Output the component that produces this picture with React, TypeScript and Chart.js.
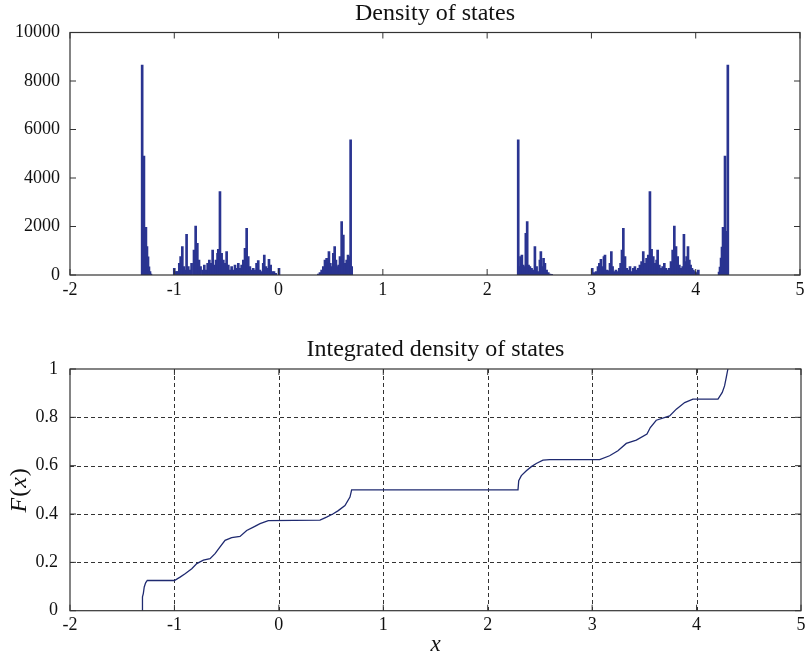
import React, { useEffect, useRef } from "react";
import { Chart, registerables } from "chart.js";
Chart.register(...registerables);

// ---------- data ----------
const xTicks = [-2, -1, 0, 1, 2, 3, 4, 5];
const dosYTicks = [0, 2000, 4000, 6000, 8000, 10000];
const idsYTicks = [0, 0.2, 0.4, 0.6, 0.8, 1];

const topTitle = "Density of states";
const bottomTitle = "Integrated density of states";

// histogram bins (bin centre) and counts, band by band
const band1X = [-1.308, -1.300, -1.291, -1.281, -1.272, -1.262, -1.252, -1.243, -1.233, -1.224];
const band1Counts = [8660, 1750, 4900, 1750, 1970, 1170, 750, 340, 140, 40];

const band2X = [-1.000, -0.987, -0.974, -0.962, -0.952, -0.939, -0.923, -0.907, -0.898, -0.882, -0.866, -0.850, -0.834, -0.811, -0.795, -0.779, -0.763, -0.748, -0.728, -0.712, -0.696, -0.680, -0.664, -0.648, -0.632, -0.616, -0.600, -0.585, -0.578, -0.562, -0.546, -0.530, -0.514, -0.498, -0.482, -0.466, -0.450, -0.434, -0.418, -0.402, -0.386, -0.370, -0.354, -0.338, -0.322, -0.306, -0.291, -0.275, -0.259, -0.243, -0.227, -0.211, -0.195, -0.179, -0.163, -0.147, -0.137, -0.121, -0.105, -0.092, -0.076, -0.060, -0.044, -0.028, 0.004];
const band2Counts = [275, 140, 140, 140, 480, 756, 1169, 344, 206, 1678, 344, 206, 481, 1031, 2021, 1306, 619, 344, 206, 413, 206, 481, 619, 481, 1031, 413, 619, 894, 1059, 3438, 894, 619, 481, 963, 413, 206, 344, 206, 413, 275, 481, 275, 413, 619, 1100, 1925, 756, 344, 206, 275, 206, 481, 591, 206, 137, 481, 825, 344, 275, 646, 413, 137, 137, 69, 275];

const band3X = [0.381, 0.397, 0.413, 0.429, 0.445, 0.461, 0.474, 0.483, 0.496, 0.509, 0.525, 0.538, 0.550, 0.563, 0.576, 0.589, 0.605, 0.621, 0.637, 0.653, 0.666, 0.678, 0.691, 0.701];
const band3Counts = [41, 96, 206, 344, 619, 688, 509, 963, 481, 344, 894, 1169, 619, 344, 413, 756, 2200, 1650, 481, 619, 825, 756, 5569, 344];

const band4X = [2.298, 2.308, 2.320, 2.333, 2.346, 2.359, 2.371, 2.384, 2.397, 2.410, 2.426, 2.442, 2.458, 2.474, 2.490, 2.506, 2.515, 2.528, 2.541, 2.554, 2.570, 2.586, 2.602, 2.618];
const band4Counts = [5569, 344, 756, 825, 413, 344, 1719, 2200, 413, 344, 275, 206, 1169, 344, 138, 619, 963, 344, 688, 481, 206, 96, 41, 28];

const band5X = [3.008, 3.024, 3.044, 3.063, 3.076, 3.091, 3.107, 3.120, 3.130, 3.146, 3.162, 3.178, 3.191, 3.203, 3.219, 3.235, 3.251, 3.267, 3.280, 3.293, 3.306, 3.322, 3.338, 3.354, 3.370, 3.386, 3.402, 3.417, 3.433, 3.449, 3.465, 3.481, 3.497, 3.513, 3.529, 3.545, 3.561, 3.577, 3.593, 3.609, 3.625, 3.635, 3.651, 3.667, 3.683, 3.699, 3.715, 3.731, 3.747, 3.763, 3.779, 3.795, 3.811, 3.827, 3.843, 3.859, 3.875, 3.887, 3.900, 3.913, 3.926, 3.939, 3.951, 3.964, 3.977, 3.993, 4.009, 4.025];
const band5Counts = [275, 96, 138, 344, 481, 646, 344, 756, 825, 206, 179, 481, 963, 344, 138, 206, 138, 275, 481, 1031, 1925, 756, 275, 206, 344, 138, 275, 344, 206, 275, 413, 550, 963, 481, 688, 825, 3438, 1059, 756, 481, 619, 1031, 413, 275, 344, 481, 275, 206, 275, 550, 1031, 2021, 1169, 756, 413, 275, 344, 1678, 550, 756, 1169, 619, 413, 275, 206, 138, 96, 206];

const band6X = [4.224, 4.233, 4.243, 4.252, 4.262, 4.272, 4.281, 4.291, 4.300, 4.308];
const band6Counts = [120, 330, 700, 1150, 1970, 1700, 4900, 1750, 1800, 8660];

// integrated density of states F(x)
const idsX = [-1.308, -1.306, -1.298, -1.289, -1.276, -1.260, -1.000, -0.946, -0.898, -0.834, -0.786, -0.723, -0.659, -0.611, -0.563, -0.515, -0.452, -0.372, -0.308, -0.244, -0.180, -0.101, 0.394, 0.457, 0.521, 0.569, 0.633, 0.681, 0.697, 2.290, 2.297, 2.322, 2.370, 2.418, 2.465, 2.529, 2.593, 3.072, 3.167, 3.247, 3.327, 3.423, 3.525, 3.557, 3.614, 3.742, 3.806, 3.886, 3.965, 4.205, 4.246, 4.268, 4.284, 4.300];
const idsF = [0, 0.057, 0.071, 0.098, 0.115, 0.125, 0.125, 0.139, 0.153, 0.174, 0.195, 0.209, 0.215, 0.236, 0.264, 0.291, 0.302, 0.307, 0.332, 0.346, 0.360, 0.373, 0.375, 0.387, 0.401, 0.414, 0.435, 0.470, 0.500, 0.500, 0.538, 0.559, 0.579, 0.596, 0.609, 0.623, 0.625, 0.625, 0.641, 0.662, 0.692, 0.706, 0.731, 0.758, 0.788, 0.806, 0.834, 0.861, 0.875, 0.875, 0.903, 0.930, 0.964, 1.0];

// ---------- helpers ----------
const SERIF = "'Liberation Serif', 'Times New Roman', serif";
const tickFont = { family: SERIF, size: 18 };
const TITLE_PX = 24;

const bandsX = [band1X, band2X, band3X, band4X, band5X, band6X];
const bandsC = [band1Counts, band2Counts, band3Counts, band4Counts, band5Counts, band6Counts];

function framePlugin(xs: number[], ys: number[], grid: boolean) {
  return {
    id: "frame",
    beforeDatasetsDraw(chart: any) {
      if (!grid) return;
      const { ctx, chartArea: a, scales } = chart;
      ctx.save();
      ctx.strokeStyle = "#333";
      ctx.lineWidth = 1;
      ctx.setLineDash([4, 3]);
      xs.forEach((v) => {
        const px = Math.round(scales.x.getPixelForValue(v)) + 0.5;
        if (px <= a.left + 1 || px >= a.right - 1) return;
        ctx.beginPath();
        ctx.moveTo(px, a.top);
        ctx.lineTo(px, a.bottom);
        ctx.stroke();
      });
      ys.forEach((v) => {
        const py = Math.round(scales.y.getPixelForValue(v)) + 0.5;
        if (py <= a.top + 1 || py >= a.bottom - 1) return;
        ctx.beginPath();
        ctx.moveTo(a.left, py);
        ctx.lineTo(a.right, py);
        ctx.stroke();
      });
      ctx.restore();
    },
    afterDatasetsDraw(chart: any) {
      const { ctx, chartArea: a, scales } = chart;
      ctx.save();
      ctx.strokeStyle = "#333";
      ctx.lineWidth = 1.2;
      ctx.setLineDash([]);
      ctx.strokeRect(a.left, a.top, a.right - a.left, a.bottom - a.top);
      const tl = 6;
      ctx.lineWidth = 1;
      xs.forEach((v) => {
        const px = scales.x.getPixelForValue(v);
        ctx.beginPath();
        ctx.moveTo(px, a.bottom);
        ctx.lineTo(px, a.bottom - tl);
        ctx.moveTo(px, a.top);
        ctx.lineTo(px, a.top + tl);
        ctx.stroke();
      });
      ys.forEach((v) => {
        const py = scales.y.getPixelForValue(v);
        ctx.beginPath();
        ctx.moveTo(a.left, py);
        ctx.lineTo(a.left + tl, py);
        ctx.moveTo(a.right, py);
        ctx.lineTo(a.right - tl, py);
        ctx.stroke();
      });
      ctx.restore();
    },
  };
}

function textPlugin(draw: (ctx: CanvasRenderingContext2D, chart: any) => void) {
  return {
    id: "texts",
    afterDraw(chart: any) {
      const ctx = chart.ctx;
      ctx.save();
      draw(ctx, chart);
      ctx.restore();
    },
  };
}

function axisOpts(min: number, max: number, ticks: number[], isX: boolean, size: number, pad: number) {
  return {
    type: "linear" as const,
    min,
    max,
    offset: false,
    afterBuildTicks: (s: any) => {
      s.ticks = ticks.map((v) => ({ value: v }));
    },
    afterFit: (s: any) => {
      if (isX) {
        s.height = size;
        s.paddingLeft = 0;
        s.paddingRight = 0;
      } else {
        s.width = size;
        s.paddingTop = 0;
        s.paddingBottom = 0;
      }
    },
    grid: { display: false, drawTicks: false, offset: false },
    border: { display: false },
    ticks: {
      font: tickFont,
      color: "#111",
      padding: pad,
      maxRotation: 0,
      autoSkip: false,
      callback: (v: any) => String(v),
    },
  };
}

export default function App() {
  const topRef = useRef<HTMLCanvasElement>(null);
  const botRef = useRef<HTMLCanvasElement>(null);

  useEffect(() => {
    const dosPoints: { x: number; y: number }[] = [];
    bandsX.forEach((xsArr, i) => {
      xsArr.forEach((x, j) => dosPoints.push({ x, y: bandsC[i][j] }));
    });
    const idsPoints = idsX.map((x, i) => ({ x, y: idsF[i] }));

    const top = new Chart(topRef.current!, {
      type: "bar",
      data: {
        datasets: [
          {
            data: dosPoints as any,
            backgroundColor: "#2a3491",
            borderWidth: 0,
            barThickness: 2,
            grouped: false,
          } as any,
        ],
      },
      options: {
        animation: false,
        responsive: false,
        maintainAspectRatio: false,
        layout: { padding: { top: 32.5, right: 5, left: 0, bottom: 0 } },
        plugins: { legend: { display: false }, tooltip: { enabled: false }, title: { display: false } },
        scales: {
          x: axisOpts(-2, 5, xTicks, true, 25, 4) as any,
          y: axisOpts(0, 10000, dosYTicks, false, 70, 10) as any,
        },
      },
      plugins: [
        framePlugin(xTicks, dosYTicks, false),
        textPlugin((ctx, chart) => {
          const a = chart.chartArea;
          ctx.fillStyle = "#111";
          ctx.font = `${TITLE_PX}px ${SERIF}`;
          ctx.textAlign = "center";
          ctx.textBaseline = "middle";
          ctx.fillText(topTitle, (a.left + a.right) / 2, 14);
        }),
      ],
    });

    const bot = new Chart(botRef.current!, {
      type: "line",
      data: {
        datasets: [
          {
            data: idsPoints as any,
            borderColor: "#1f2a70",
            borderWidth: 1.3,
            pointRadius: 0,
            tension: 0,
            fill: false,
          },
        ],
      },
      options: {
        animation: false,
        responsive: false,
        maintainAspectRatio: false,
        layout: { padding: { top: 69, right: 4, left: 0, bottom: 0 } },
        plugins: { legend: { display: false }, tooltip: { enabled: false }, title: { display: false } },
        scales: {
          x: axisOpts(-2, 5, xTicks, true, 43.3, 4) as any,
          y: axisOpts(0, 1, idsYTicks, false, 70, 12) as any,
        },
      },
      plugins: [
        framePlugin(xTicks, idsYTicks, true),
        textPlugin((ctx, chart) => {
          const a = chart.chartArea;
          ctx.fillStyle = "#111";
          ctx.font = `${TITLE_PX}px ${SERIF}`;
          ctx.textAlign = "center";
          ctx.textBaseline = "middle";
          ctx.fillText(bottomTitle, (a.left + a.right) / 2, 50);
          // x label
          ctx.font = `italic 23px ${SERIF}`;
          ctx.fillText("x", (a.left + a.right) / 2, 345);
          // F(x) label rotated
          ctx.translate(20, (a.top + a.bottom) / 2);
          ctx.rotate(-Math.PI / 2);
          const parts: [string, string][] = [
            ["F", `italic 24px ${SERIF}`],
            ["(", `24px ${SERIF}`],
            ["x", `italic 24px ${SERIF}`],
            [")", `24px ${SERIF}`],
          ];
          let total = 0;
          parts.forEach(([t, f]) => {
            ctx.font = f;
            total += ctx.measureText(t).width + 1;
          });
          let cx = -total / 2;
          ctx.textAlign = "left";
          parts.forEach(([t, f]) => {
            ctx.font = f;
            ctx.fillText(t, cx, 0);
            cx += ctx.measureText(t).width + 1;
          });
        }),
      ],
    });

    return () => {
      top.destroy();
      bot.destroy();
    };
  }, []);

  return (
    <div style={{ position: "absolute", left: 0, top: 0, width: 805, height: 654, background: "#fff" }}>
      <canvas ref={topRef} width={805} height={300} style={{ position: "absolute", left: 0, top: 0, width: 805, height: 300 }} />
      <canvas ref={botRef} width={805} height={354} style={{ position: "absolute", left: 0, top: 300, width: 805, height: 354 }} />
    </div>
  );
}
